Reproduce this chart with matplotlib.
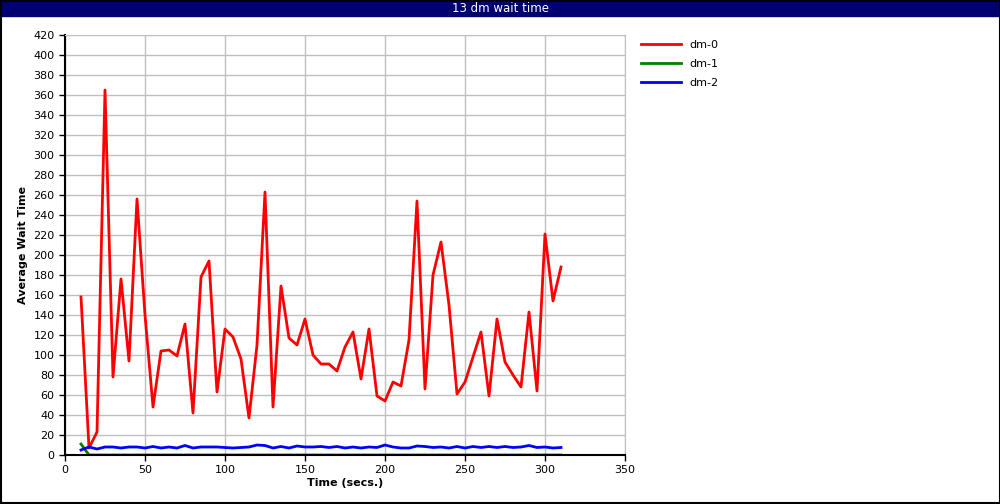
import numpy as np
import matplotlib
matplotlib.use('Agg')
from matplotlib import pyplot as plt
from matplotlib.patches import Rectangle

times = list(range(10, 315, 5))

dm0 = [158, 7, 23, 365, 78, 176, 94, 256, 140, 48,
       104, 105, 99, 131, 42, 178, 194, 63, 126, 118,
       96, 37, 110, 263, 48, 169, 117, 110, 136, 100,
       91, 91, 84, 108, 123, 76, 126, 59, 54, 73,
       69, 115, 254, 66, 180, 213, 150, 61, 73, 98,
       123, 59, 136, 93, 80, 68, 143, 64, 221, 154,
       188]

dm1 = [11, 0] + [0] * 59

dm2 = [5, 8, 6, 8, 8, 7, 8, 8, 7, 8.5,
       7, 8, 7, 9.5, 7, 8, 8, 8, 7.5, 7,
       7.5, 8, 10, 9.5, 7, 8.5, 7, 9, 8, 8,
       8.5, 7.5, 8.5, 7, 8, 7, 8, 7.5, 10, 8,
       7, 7, 9, 8.5, 7.5, 8, 7, 8.5, 7, 8.5,
       7.5, 8.5, 7.5, 8.5, 7.5, 8, 9.5, 7.5, 8, 7,
       7.5]

fig = plt.figure(figsize=(10, 5.04), dpi=100)
ax = fig.add_axes([0.065, 1 - 455/504, 0.56, 420/504])

ax.plot(times, dm0, color='#ff0000', lw=2, label='dm-0')
ax.plot(times, dm1, color='#008000', lw=2, label='dm-1')
ax.plot(times, dm2, color='#0000ff', lw=2, label='dm-2')

ax.set_xlim(0, 350)
ax.set_ylim(0, 420)
ax.set_xticks(np.arange(0, 351, 50))
ax.set_yticks(np.arange(0, 421, 20))
ax.grid(True, color='#c0c0c0', lw=1)
ax.set_axisbelow(True)
ax.tick_params(labelsize=8, direction='out', length=4, width=1)
for s in ['top', 'right']:
    ax.spines[s].set_color('#c0c0c0')
ax.spines['left'].set_linewidth(1.5)
ax.spines['bottom'].set_linewidth(1.5)

ax.set_xlabel('Time (secs.)', fontsize=8, fontweight='bold', labelpad=2)
ax.set_ylabel('Average Wait Time', fontsize=8, fontweight='bold', labelpad=4)

ax.legend(loc='upper left', bbox_to_anchor=(1.01, 1.012), frameon=False,
          fontsize=8, handlelength=3.6, labelspacing=0.8)

# title bar and border
fig.patches.append(Rectangle((0, 1 - 16/504), 1, 16/504, transform=fig.transFigure,
                             color='#000070', zorder=0))
fig.text(0.5, 1 - 8/504, '13 dm wait time', color='white', fontsize=8.5,
         ha='center', va='center')
fig.patches.append(Rectangle((0.0005, 0.001), 0.999, 0.998, transform=fig.transFigure,
                             fill=False, edgecolor='black', lw=1.5))

plt.savefig('out.png', dpi=100)
